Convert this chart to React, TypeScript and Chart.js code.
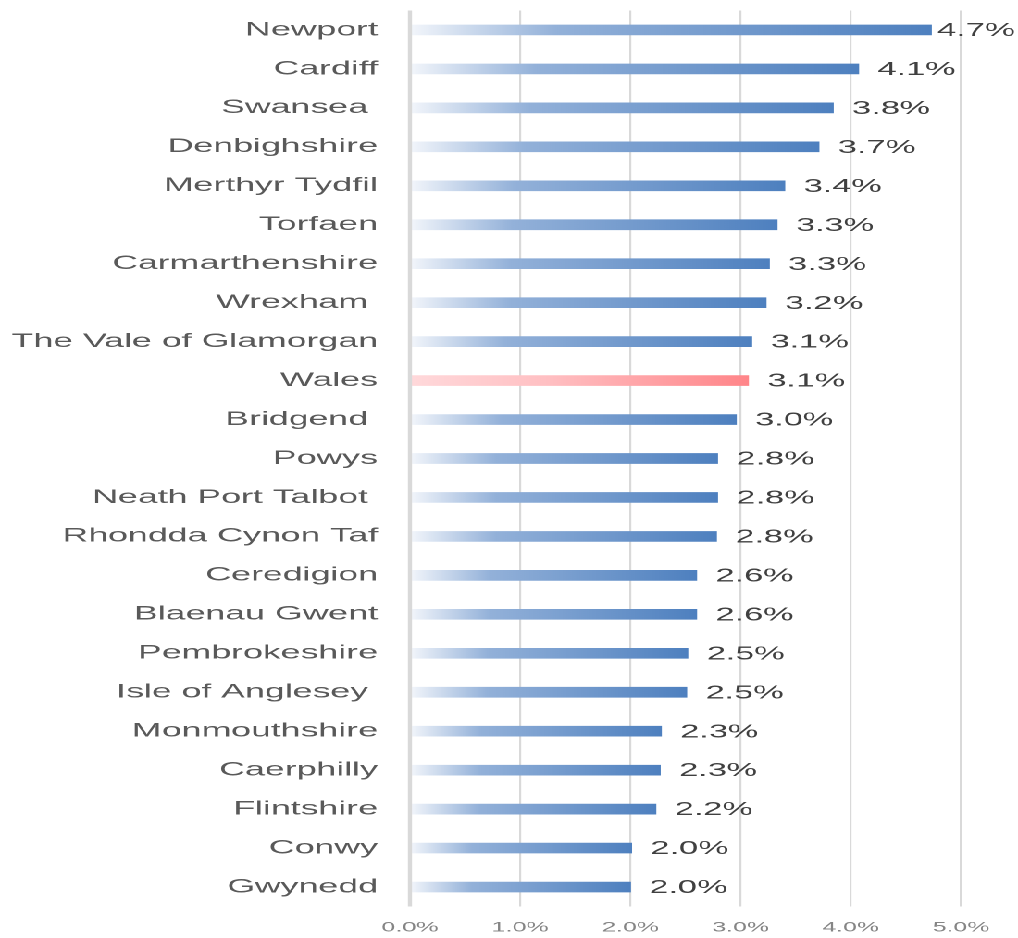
import React, { useEffect, useRef } from 'react';
import { Chart, registerables } from 'chart.js';

Chart.register(...registerables);

const categories = [
  'Newport',
  'Cardiff',
  'Swansea ',
  'Denbighshire',
  'Merthyr Tydfil',
  'Torfaen',
  'Carmarthenshire',
  'Wrexham ',
  'The Vale of Glamorgan',
  'Wales',
  'Bridgend ',
  'Powys',
  'Neath Port Talbot ',
  'Rhondda Cynon Taf',
  'Ceredigion',
  'Blaenau Gwent',
  'Pembrokeshire',
  'Isle of Anglesey ',
  'Monmouthshire',
  'Caerphilly',
  'Flintshire',
  'Conwy',
  'Gwynedd',
];

const values = [
  4.73, 4.07, 3.84, 3.71, 3.40, 3.33, 3.26, 3.23, 3.10, 3.07, 2.96, 2.79,
  2.79, 2.78, 2.60, 2.60, 2.52, 2.51, 2.28, 2.27, 2.23, 2.01, 2.0,
];

const highlightCategory = 'Wales';
const xTicks = [0, 1, 2, 3, 4, 5];

const FAMILY = "'Liberation Sans', Arial, sans-serif";
const CSS_W = 550;
const CSS_H = 938;
const STRETCH = 1018 / CSS_W;

const BLUE_STOPS: [number, string][] = [
  [0, '#f3f6fb'],
  [0.28, '#93b1d9'],
  [1, '#4e80bf'],
];
const RED_STOPS: [number, string][] = [
  [0, '#ffd9db'],
  [0.4, '#ffc0c3'],
  [1, '#ff8589'],
];

function barColor(ctx: any) {
  const chart = ctx.chart;
  const xs = chart.scales && chart.scales.x;
  const isHi = categories[ctx.dataIndex] && categories[ctx.dataIndex].trim() === highlightCategory;
  const stops = isHi ? RED_STOPS : BLUE_STOPS;
  if (!xs || !chart.chartArea || ctx.type !== 'data') return stops[2][1];
  const x0 = xs.getPixelForValue(0);
  const x1 = xs.getPixelForValue(values[ctx.dataIndex]);
  if (!isFinite(x0) || !isFinite(x1) || x1 - x0 < 1) return stops[2][1];
  const g = chart.ctx.createLinearGradient(x0, 0, x1, 0);
  stops.forEach(([o, c]) => g.addColorStop(o, c));
  return g;
}

const overlayPlugin = {
  id: 'overlay',
  afterDatasetsDraw(chart: any) {
    const { ctx, chartArea } = chart;
    ctx.save();
    ctx.strokeStyle = '#d9d9d9';
    ctx.lineWidth = 2.2;
    ctx.beginPath();
    ctx.moveTo(chartArea.left, chartArea.top);
    ctx.lineTo(chartArea.left, chartArea.bottom);
    ctx.stroke();

    ctx.font = `18.5px ${FAMILY}`;
    ctx.fillStyle = '#404040';
    ctx.textBaseline = 'middle';
    ctx.textAlign = 'left';
    const meta = chart.getDatasetMeta(0);
    meta.data.forEach((bar: any, i: number) => {
      const t = values[i].toFixed(1) + '%';
      const w = ctx.measureText(t).width;
      const x = Math.min(bar.x + 10.3, chart.width - w - 1.5);
      ctx.fillText(t, x, bar.y + 1);
    });
    ctx.restore();
  },
};

export default function App() {
  const ref = useRef<HTMLCanvasElement | null>(null);

  useEffect(() => {
    if (!ref.current) return;
    const chart = new Chart(ref.current, {
      type: 'bar',
      data: {
        labels: categories,
        datasets: [
          {
            data: values,
            backgroundColor: barColor as any,
            borderWidth: 0,
            barThickness: 10,
          },
        ],
      },
      options: {
        indexAxis: 'y',
        responsive: true,
        maintainAspectRatio: false,
        animation: false,
        devicePixelRatio: 2,
        layout: { padding: { top: 10.5, right: 30.8, bottom: 0, left: 0 } },
        plugins: {
          legend: { display: false },
          tooltip: { enabled: false },
        },
        scales: {
          x: {
            min: 0,
            max: 5,
            afterBuildTicks: (s: any) => {
              s.ticks = xTicks.map((v) => ({ value: v }));
            },
            afterFit: (s: any) => {
              s.height = 31.5;
              s.paddingLeft = 0;
              s.paddingRight = 0;
            },
            grid: { color: '#d9d9d9', lineWidth: 1.1, drawTicks: false },
            border: { display: false },
            ticks: {
              padding: 13,
              color: '#858585',
              font: { family: FAMILY, size: 13.5 },
              maxRotation: 0,
              callback: (v: any) => Number(v).toFixed(1) + '%',
            },
          },
          y: {
            afterFit: (s: any) => {
              s.width = 221.5;
              s.paddingTop = 0;
              s.paddingBottom = 0;
            },
            grid: { display: false, drawTicks: false },
            border: { display: false },
            ticks: {
              padding: 17.3,
              color: '#595959',
              autoSkip: false,
              font: { family: FAMILY, size: 19.3 },
            },
          },
        },
      },
      plugins: [overlayPlugin],
    });
    return () => chart.destroy();
  }, []);

  return (
    <div
      style={{
        position: 'absolute',
        left: 0,
        top: 0,
        width: CSS_W,
        height: CSS_H,
        transform: `scaleX(${STRETCH})`,
        transformOrigin: '0 0',
        background: '#ffffff',
      }}
    >
      <canvas ref={ref} />
    </div>
  );
}
